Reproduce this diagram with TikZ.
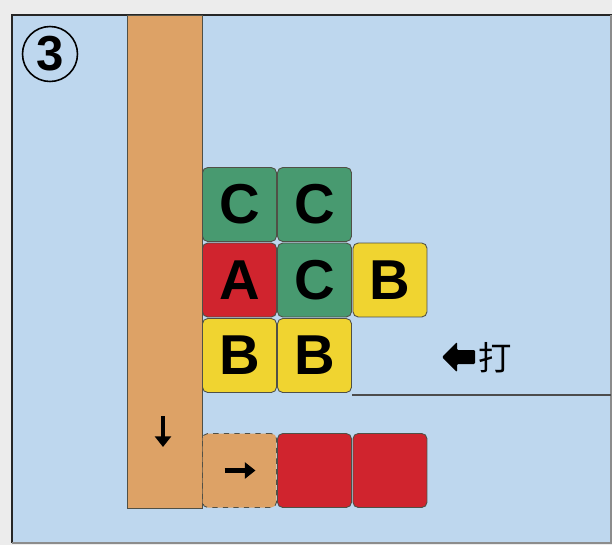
\documentclass[tikz,border=0pt]{standalone}
\usepackage{fontspec}
\setmainfont{Liberation Sans}
\newfontfamily\cjk{Noto Sans CJK SC}
\usetikzlibrary{arrows.meta}
\definecolor{bgblue}{RGB}{190,215,238}
\definecolor{paper}{RGB}{236,236,236}
\definecolor{wood}{RGB}{221,162,102}
\definecolor{tgreen}{RGB}{72,154,112}
\definecolor{tred}{RGB}{208,36,46}
\definecolor{tyellow}{RGB}{240,212,48}
\definecolor{edge}{RGB}{80,80,70}

\begin{document}
\begin{tikzpicture}[x=0.02cm, y=-0.02cm,
    tile/.style={draw=edge, line width=0.5pt, rounded corners=3pt, minimum size=1.48cm, inner sep=0pt, font=\bfseries\fontsize{32}{32}\selectfont},
    arr/.style={line width=2.4pt, -{Triangle[length=6pt, width=9pt]}}]
    \useasboundingbox (0,0) rectangle (612,545);
    \fill[paper] (0,0) rectangle (612,545);

    % 外框
    \fill[bgblue] (12,15) rectangle (611,543);
    \draw[black!85, line width=1.6pt] (12,543) -- (12,15) -- (612,15);
    \draw[black!45, line width=0.8pt] (12,543) -- (611,543) -- (611,15);

    % 编号
    \node[draw, circle, line width=0.9pt, minimum size=1.1cm, inner sep=0pt, font=\bfseries\fontsize{28}{28}\selectfont] (num) at (50,54) {3};

    % 竖板
    \fill[wood, draw=edge, line width=0.5pt] (127,15) rectangle (202,508);

    % 地面线
    \coordinate (floorL) at (352,395);
    \coordinate (floorR) at (611,395);
    \draw[black!70, line width=1pt] (floorL) -- (floorR);

    % 上方的方块
    \node[tile, fill=tgreen] (c1) at (239.5,204.5) {C};
    \node[tile, fill=tgreen] (c2) at (314.5,204.5) {C};
    \node[tile, fill=tred] (a) at (239.5,280) {A};
    \node[tile, fill=tgreen] (c3) at (314.5,280) {C};
    \node[tile, fill=tyellow] (b1) at (390,280) {B};
    \node[tile, fill=tyellow] (b2) at (239.5,355.5) {B};
    \node[tile, fill=tyellow] (b3) at (314.5,355.5) {B};

    % 下方的方块
    \node[tile, fill=wood, draw=edge, dashed] (move) at (239.5,470.5) {};
    \node[tile, fill=tred] (r1) at (314.5,470.5) {};
    \node[tile, fill=tred] (r2) at (390,470.5) {};

    % 箭头
    \coordinate (dtop) at (163,416);
    \coordinate (dbot) at (163,447);
    \draw[arr] (dtop) -- (dbot);
    \draw[arr] ([xshift=-0.3cm]move.center) -- ([xshift=0.32cm]move.center);

    % 打
    \fill[black, rounded corners=0.6pt] (442,357) -- (457,342) -- (457,350) -- (475,350)
        -- (475,364) -- (457,364) -- (457,372) -- cycle;
    \node[font=\cjk\fontsize{19}{19}\selectfont, inner sep=0pt] (da) at (495,358) {打};
\end{tikzpicture}
\end{document}
